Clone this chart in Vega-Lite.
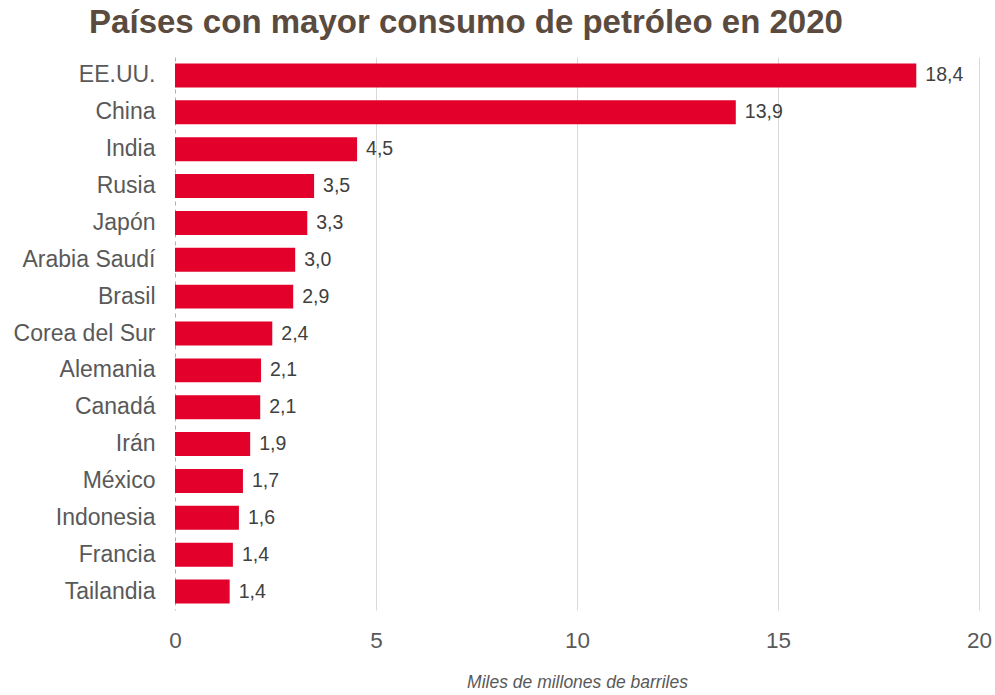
{
  "$schema": "https://vega.github.io/schema/vega-lite/v6.json",
  "width": 804,
  "height": 553,
  "autosize": {"type": "none"},
  "padding": {"left": 175, "top": 57, "right": 16, "bottom": 85},
  "background": "white",
  "config": {
    "font": "Arial, Liberation Sans, sans-serif",
    "view": {"stroke": null},
    "locale": {"number": {"decimal": ",", "thousands": ".", "grouping": [3], "currency": ["", " €"]}}
  },
  "title": {
    "text": "Países con mayor consumo de petróleo en 2020",
    "font": "Arial, Liberation Sans, sans-serif",
    "fontSize": 33,
    "fontWeight": "bold",
    "color": "#5b4b3f",
    "anchor": "middle",
    "frame": "group",
    "dx": -111,
    "offset": 17
  },
  "data": {
    "values": [
      {"pais": "EE.UU.", "consumo": 18.44},
      {"pais": "China", "consumo": 13.95},
      {"pais": "India", "consumo": 4.53},
      {"pais": "Rusia", "consumo": 3.46},
      {"pais": "Japón", "consumo": 3.29},
      {"pais": "Arabia Saudí", "consumo": 2.99},
      {"pais": "Brasil", "consumo": 2.94},
      {"pais": "Corea del Sur", "consumo": 2.42},
      {"pais": "Alemania", "consumo": 2.14},
      {"pais": "Canadá", "consumo": 2.12},
      {"pais": "Irán", "consumo": 1.87},
      {"pais": "México", "consumo": 1.69},
      {"pais": "Indonesia", "consumo": 1.59},
      {"pais": "Francia", "consumo": 1.44},
      {"pais": "Tailandia", "consumo": 1.36}
    ]
  },
  "encoding": {
    "y": {
      "field": "pais",
      "type": "nominal",
      "sort": null,
      "scale": {"paddingInner": 0.35, "paddingOuter": 0.175},
      "axis": {
        "title": null,
        "labelFontSize": 23,
        "labelColor": "#595959",
        "labelPadding": 20,
        "labelLimit": 300,
        "ticks": false,
        "tickSize": 0,
        "domain": true,
        "domainColor": "#f0a050",
        "domainDash": [4, 4],
        "domainWidth": 1,
        "grid": false
      }
    },
    "x": {
      "field": "consumo",
      "type": "quantitative",
      "scale": {"domain": [0, 20], "nice": false},
      "axis": {
        "title": "Miles de millones de barriles",
        "titleFontSize": 17.5,
        "titleFontStyle": "italic",
        "titleFontWeight": "normal",
        "titleColor": "#595959",
        "titlePadding": 22,
        "values": [0, 5, 10, 15, 20],
        "format": "d",
        "labelFontSize": 22.5,
        "labelColor": "#595959",
        "labelPadding": 19,
        "labelFlush": false,
        "ticks": false,
        "tickSize": 0,
        "domain": false,
        "grid": true,
        "gridColor": {"condition": {"test": "datum.value === 0", "value": "transparent"}, "value": "#d9d9d9"},
        "gridWidth": 1
      }
    }
  },
  "layer": [
    {"mark": {"type": "bar", "color": "#e3002b"}},
    {
      "mark": {"type": "text", "align": "left", "baseline": "middle", "dx": 9, "fontSize": 19.5, "color": "#404040"},
      "encoding": {"text": {"field": "consumo", "type": "quantitative", "format": ".1f"}}
    }
  ]
}
